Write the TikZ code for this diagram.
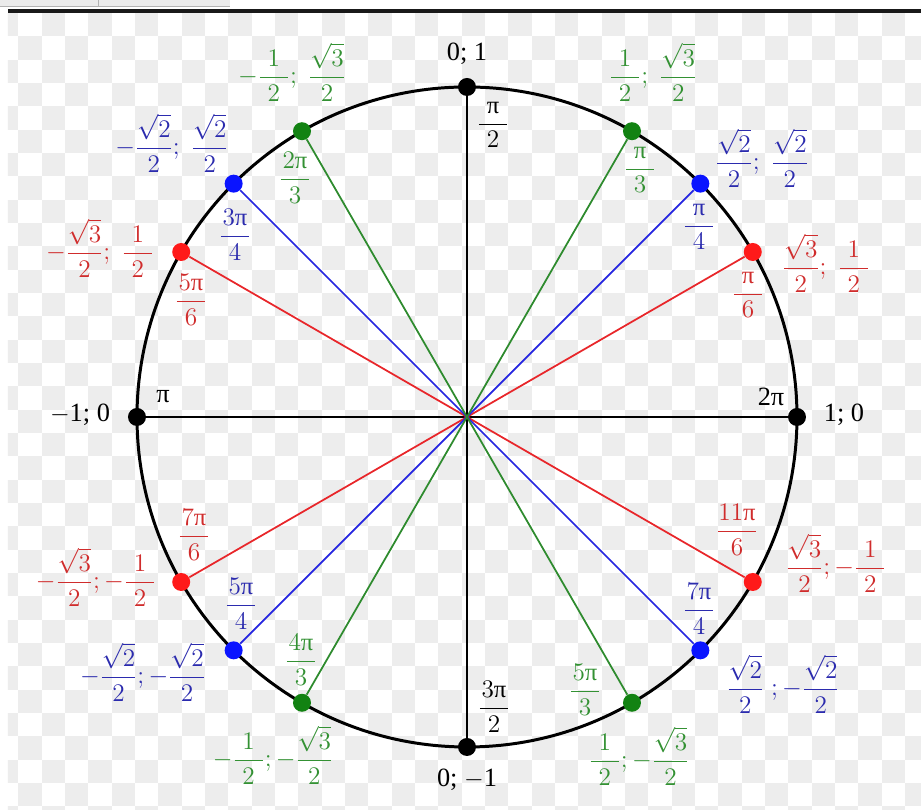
\documentclass[tikz,border=0pt]{standalone}
\usepackage{amsmath}
\usepackage{fontspec}
\setmainfont{Liberation Serif}
\usepackage{xcolor}
\definecolor{DotRed}{HTML}{FF1A1A}
\definecolor{LineRed}{HTML}{E8262A}
\definecolor{TextRed}{HTML}{D02C2C}
\definecolor{DotBlue}{HTML}{0A14FF}
\definecolor{LineBlue}{HTML}{2626E0}
\definecolor{TextBlue}{HTML}{2B2BAE}
\definecolor{DotGreen}{HTML}{128212}
\definecolor{LineGreen}{HTML}{2E8B2E}
\definecolor{TextGreen}{HTML}{339133}
\definecolor{CheckGray}{HTML}{EDEDED}

\newlength{\frwd}
\newcommand{\fr}[2]{\settowidth{\frwd}{$\displaystyle#1$}%
  \ifdim\frwd<16pt\setlength{\frwd}{16pt}\fi
  \dfrac{\makebox[\frwd]{$\displaystyle#1$}}{#2}}
\newcommand{\rpi}{\mbox{π}}

\pgfdeclarelayer{bg}
\pgfdeclarelayer{lines}
\pgfsetlayers{bg,lines,main}

\begin{document}
\begin{tikzpicture}[x=0.02cm, y=0.02cm,
    dot/.style={circle, inner sep=0pt, minimum size=0.36cm},
    lbl/.style={inner sep=0pt, font=\fontsize{14}{17}\selectfont},
    pair/.style={inner sep=0pt, font=\fontsize{15}{18}\selectfont},
    circ/.style={draw=black, line width=1.7pt},
    axis/.style={draw=black, line width=1.1pt},
    ray/.style={line width=1pt}
  ]
    \useasboundingbox (-467,-393) rectangle (454,417);

    \begin{pgfonlayer}{bg}
      \fill[white] (-467,-393) rectangle (454,417);
      \fill[black!8] (-467,417) rectangle (-237,411);
      \draw[black!30] (-467,411) -- (-237,411) (-369,417) -- (-369,411);
      \begin{scope}
        \clip (-459,404) rectangle (454,-393);
        \foreach \i in {0,...,40}
          \foreach \j in {0,...,35} {
            \pgfmathtruncatemacro\k{mod(\i+\j,2)}
            \ifnum\k=0 \fill[CheckGray] (-472+23.33*\i,404-23.33*\j) rectangle ++(23.33,-23.33); \fi
          }
      \end{scope}
      \fill[black!90] (-459,408) rectangle (454,404);
    \end{pgfonlayer}

    \node[dot, fill=black] (p0) at (0:330) {};
    \node[dot, fill=DotRed] (p30) at (30:330) {};
    \node[dot, fill=DotBlue] (p45) at (45:330) {};
    \node[dot, fill=DotGreen] (p60) at (60:330) {};
    \node[dot, fill=black] (p90) at (90:330) {};
    \node[dot, fill=DotGreen] (p120) at (120:330) {};
    \node[dot, fill=DotBlue] (p135) at (135:330) {};
    \node[dot, fill=DotRed] (p150) at (150:330) {};
    \node[dot, fill=black] (p180) at (180:330) {};
    \node[dot, fill=DotRed] (p210) at (210:330) {};
    \node[dot, fill=DotBlue] (p225) at (225:330) {};
    \node[dot, fill=DotGreen] (p240) at (240:330) {};
    \node[dot, fill=black] (p270) at (270:330) {};
    \node[dot, fill=DotGreen] (p300) at (300:330) {};
    \node[dot, fill=DotBlue] (p315) at (315:330) {};
    \node[dot, fill=DotRed] (p330) at (330:330) {};

    \begin{pgfonlayer}{lines}
      \draw[circ] (0,0) circle[radius=330];
      \draw[axis] (p180) -- (p0);
      \draw[axis] (p90) -- (p270);
      \draw[ray, LineRed] (p30) -- (p210);
      \draw[ray, LineRed] (p150) -- (p330);
      \draw[ray, LineBlue] (p45) -- (p225);
      \draw[ray, LineBlue] (p135) -- (p315);
      \draw[ray, LineGreen] (p60) -- (p240);
      \draw[ray, LineGreen] (p120) -- (p300);
    \end{pgfonlayer}

    \node[pair] (c0) at (377,2) {1; 0};
    \node[pair] (c90) at (0,363) {0; 1};
    \node[pair] (c180) at (-387,2) {$-$1; 0};
    \node[pair] (c270) at (0,-363) {0; $-$1};
    \node[pair] (a0) at (304,20) {2π};
    \node[pair] (a180) at (-304,20) {π};
    \node[lbl] (a90) at (26,292) {$\fr{\rpi}{2}$};
    \node[lbl] (a270) at (27,-290) {$\fr{3\rpi}{2}$};

    \node[lbl, text=TextGreen] (c60) at (186,345) {$\fr{1}{2};\;\fr{\sqrt{3}}{2}$};
    \node[lbl, text=TextGreen] (a60) at (173,247) {$\fr{\rpi}{3}$};
    \node[lbl, text=TextGreen] (c120) at (-175,345) {$-\fr{1}{2};\;\fr{\sqrt{3}}{2}$};
    \node[lbl, text=TextGreen] (a120) at (-172,239) {$\fr{2\rpi}{3}$};
    \node[lbl, text=TextGreen] (c240) at (-194,-338) {$-\fr{1}{2};-\fr{\sqrt{3}}{2}$};
    \node[lbl, text=TextGreen] (a240) at (-166,-243) {$\fr{4\rpi}{3}$};
    \node[lbl, text=TextGreen] (c300) at (172,-339) {$\fr{1}{2};-\fr{\sqrt{3}}{2}$};
    \node[lbl, text=TextGreen] (a300) at (118,-273) {$\fr{5\rpi}{3}$};

    \node[lbl, text=TextBlue] (c45) at (295,259) {$\fr{\sqrt{2}}{2};\;\fr{\sqrt{2}}{2}$};
    \node[lbl, text=TextBlue] (a45) at (232,190) {$\fr{\rpi}{4}$};
    \node[lbl, text=TextBlue] (c135) at (-295,274) {$-\fr{\sqrt{2}}{2};\;\fr{\sqrt{2}}{2}$};
    \node[lbl, text=TextBlue] (a135) at (-232,182) {$\fr{3\rpi}{4}$};
    \node[lbl, text=TextBlue] (c225) at (-324,-255) {$-\fr{\sqrt{2}}{2};-\fr{\sqrt{2}}{2}$};
    \node[lbl, text=TextBlue] (a225) at (-226,-187) {$\fr{5\rpi}{4}$};
    \node[lbl, text=TextBlue] (c315) at (316,-267) {$\fr{\sqrt{2}}{2}\;;-\fr{\sqrt{2}}{2}$};
    \node[lbl, text=TextBlue] (a315) at (232,-192) {$\fr{7\rpi}{4}$};

    \node[lbl, text=TextRed] (c30) at (359,154) {$\fr{\sqrt{3}}{2};\;\fr{1}{2}$};
    \node[lbl, text=TextRed] (a30) at (281,122) {$\fr{\rpi}{6}$};
    \node[lbl, text=TextRed] (c150) at (-367,169) {$-\fr{\sqrt{3}}{2};\;\fr{1}{2}$};
    \node[lbl, text=TextRed] (a150) at (-276,117) {$\fr{5\rpi}{6}$};
    \node[lbl, text=TextRed] (c210) at (-371,-160) {$-\fr{\sqrt{3}}{2};-\fr{1}{2}$};
    \node[lbl, text=TextRed] (a210) at (-273,-118) {$\fr{7\rpi}{6}$};
    \node[lbl, text=TextRed] (c330) at (369,-146) {$\fr{\sqrt{3}}{2};-\fr{1}{2}$};
    \node[lbl, text=TextRed] (a330) at (270,-113) {$\fr{11\rpi}{6}$};
  \end{tikzpicture}
\end{document}
